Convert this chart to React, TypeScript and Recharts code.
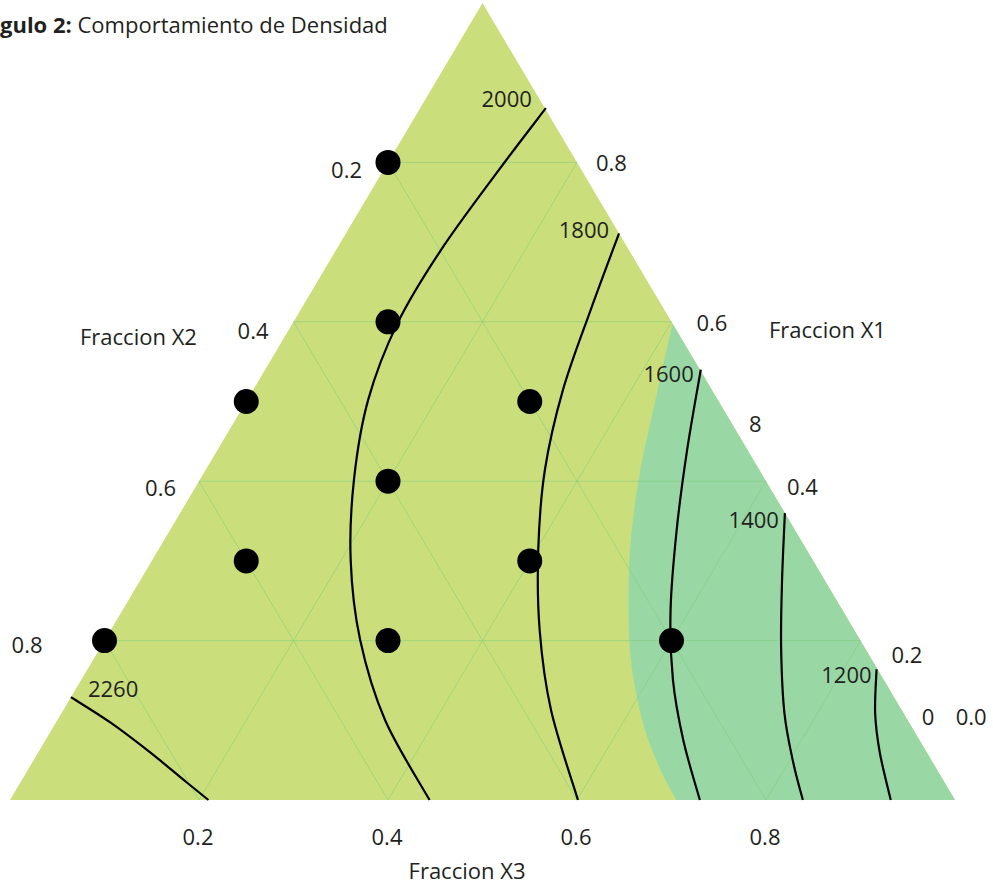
import React from "react";
import { ComposedChart, XAxis, YAxis, Scatter } from "recharts";

// ---- data (ternary fractions) ----
// mixture design points: X1 (apex), X3 (bottom right); X2 = 1 - X1 - X3
const DESIGN_X1 = [0.8, 0.6, 0.4, 0.2, 0.5, 0.3, 0.2, 0.5, 0.3, 0.2];
const DESIGN_X3 = [0.0, 0.1, 0.2, 0.3, 0.0, 0.1, 0.0, 0.3, 0.4, 0.6];

const GRID_VALUES = [0.2, 0.4, 0.6, 0.8];

const X2_TICKS = [0.2, 0.4, 0.6, 0.8];
const X2_TICK_LABELS = ["0.2", "0.4", "0.6", "0.8"];
const X1_TICKS = [0.8, 0.6, 0.47, 0.4, 0.2, 0.1, 0.1];
const X1_TICK_LABELS = ["0.8", "0.6", "8", "0.4", "0.2", "0", "0.0"];
const X3_TICKS = [0.2, 0.4, 0.6, 0.8];
const X3_TICK_LABELS = ["0.2", "0.4", "0.6", "0.8"];

const CONTOUR_LEVELS = ["2000", "1800", "1600", "1400", "1200", "2260"];

// contour lines as [X1, X3] pairs
const CONTOUR_2000 = [
  [0.868, 0.133], [0.79, 0.122], [0.69, 0.111], [0.598, 0.111], [0.502, 0.128],
  [0.402, 0.163], [0.301, 0.21], [0.201, 0.27], [0.1, 0.347], [0, 0.444],
];
const CONTOUR_1800 = [
  [0.711, 0.289], [0.615, 0.307], [0.514, 0.328], [0.414, 0.359], [0.314, 0.402],
  [0.213, 0.454], [0.113, 0.516], [0, 0.601],
];
const CONTOUR_1600 = [
  [0.54, 0.461], [0.439, 0.497], [0.339, 0.536], [0.238, 0.58], [0.151, 0.626],
  [0.075, 0.675], [0, 0.73],
];
const CONTOUR_1400 = [
  [0.36, 0.64], [0.276, 0.679], [0.192, 0.72], [0.109, 0.765], [0.046, 0.806], [0, 0.839],
];
const CONTOUR_1200 = [
  [0.164, 0.835], [0.109, 0.861], [0.059, 0.891], [0, 0.932],
];
const CONTOUR_2260 = [
  [0.129, 0.0], [0.097, 0.058], [0.06, 0.118], [0.024, 0.173], [0, 0.21],
];
const CONTOURS = [CONTOUR_2000, CONTOUR_1800, CONTOUR_1600, CONTOUR_1400, CONTOUR_1200, CONTOUR_2260];

// left border of the low-density (green) zone
const ZONE_BOUNDARY = [
  [0.598, 0.402], [0.502, 0.432], [0.414, 0.46], [0.326, 0.494], [0.251, 0.529],
  [0.176, 0.569], [0.1, 0.619], [0.044, 0.664], [0, 0.705],
];

// ---- layout ----
const CHART_W = 993;
const CHART_H = 886;
const BASE_LEFT = 10;
const BASE_RIGHT = 955;
const BASE_Y = 800;
const APEX_Y = 3;
const SX = BASE_RIGHT - BASE_LEFT;
const SY = BASE_Y - APEX_Y;
const X_DOMAIN = [-BASE_LEFT / SX, (CHART_W - BASE_LEFT) / SX];
const Y_DOMAIN = [(BASE_Y - CHART_H) / SY, BASE_Y / SY];

const FONT = "'Open Sans', 'Noto Sans', sans-serif";
const TEXT_COLOR = "#231f20";
const YELLOW = "#cadf7c";
const GREEN = "#99d8a5";

const X2_OFFSETS = [[-26, 16], [-25, 17], [-23, 15], [-62, 12]];
const X1_OFFSETS = [[19, 9], [25, 9], [16, 7], [21, 14], [31, 22], [14, 5], [48, 5]];
const LEVEL_OFFSETS = [[-14, -1], [-10, 5], [-7, 12], [-6, 15], [-5, 14], [17, 0]];
const LEVEL_ANCHORS = ["end", "end", "end", "end", "end", "start"];

// ternary -> plane (x along the base, y = height)
const toXY = (x1: number, x3: number) => ({ x: x3 + x1 / 2, y: x1 });

type Pt = { x: number; y: number };

const smoothPath = (pts: Pt[]) => {
  let d = `M${pts[0].x},${pts[0].y}`;
  for (let i = 0; i < pts.length - 1; i++) {
    const p0 = pts[i - 1] || pts[i];
    const p1 = pts[i];
    const p2 = pts[i + 1];
    const p3 = pts[i + 2] || p2;
    const c1x = p1.x + (p2.x - p0.x) / 6;
    const c1y = p1.y + (p2.y - p0.y) / 6;
    const c2x = p2.x - (p3.x - p1.x) / 6;
    const c2y = p2.y - (p3.y - p1.y) / 6;
    d += ` C${c1x},${c1y} ${c2x},${c2y} ${p2.x},${p2.y}`;
  }
  return d;
};

const NoShape = () => <g />;

// build series tables
const triangleData = [toXY(0, 0), toXY(1, 0), toXY(0, 1)];
const zoneData = [...ZONE_BOUNDARY.map(([a, b]) => toXY(a, b)), toXY(0, 1)];

const gridData: Pt[] = [];
GRID_VALUES.forEach((v) => {
  // constant X1
  gridData.push(toXY(v, 0), toXY(v, 1 - v));
  // constant X3
  gridData.push(toXY(0, v), toXY(1 - v, v));
  // constant X2
  gridData.push(toXY(0, 1 - v), toXY(1 - v, 0));
});

const designData = DESIGN_X1.map((x1, i) => toXY(x1, DESIGN_X3[i]));

const x2LabelData = X2_TICKS.map((v, i) => ({
  ...toXY(1 - v, 0), label: X2_TICK_LABELS[i], dx: X2_OFFSETS[i][0], dy: X2_OFFSETS[i][1], anchor: "end",
}));
const x1LabelData = X1_TICKS.map((v, i) => ({
  ...toXY(v, 1 - v), label: X1_TICK_LABELS[i], dx: X1_OFFSETS[i][0], dy: X1_OFFSETS[i][1], anchor: "start",
}));
const x3LabelData = X3_TICKS.map((v, i) => ({
  ...toXY(0, v), label: X3_TICK_LABELS[i], dx: -1, dy: 45, anchor: "middle",
}));
const levelLabelData = CONTOURS.map((c, i) => ({
  ...toXY(c[0][0], c[0][1]), label: CONTOUR_LEVELS[i],
  dx: LEVEL_OFFSETS[i][0], dy: LEVEL_OFFSETS[i][1], anchor: LEVEL_ANCHORS[i],
}));
const labelData = [...x2LabelData, ...x1LabelData, ...x3LabelData, ...levelLabelData];

const LabelShape = (props: any) => {
  const p = props.payload || props;
  return (
    <text
      x={props.cx + p.dx}
      y={props.cy + p.dy}
      textAnchor={p.anchor}
      fontFamily={FONT}
      fontSize={22}
      fill={TEXT_COLOR}
    >
      {p.label}
    </text>
  );
};

export default function App() {
  return (
    <div style={{ position: "absolute", left: 0, top: 0, width: CHART_W, height: CHART_H, background: "#fff" }}>
      <ComposedChart width={CHART_W} height={CHART_H} margin={{ top: 0, right: 0, bottom: 0, left: 0 }}>
        <XAxis type="number" dataKey="x" domain={X_DOMAIN} allowDataOverflow hide />
        <YAxis type="number" dataKey="y" domain={Y_DOMAIN} allowDataOverflow hide />

        <Scatter
          data={triangleData}
          isAnimationActive={false}
          shape={NoShape}
          line={(p: any) => (
            <path d={`M${p.points.map((q: Pt) => `${q.x},${q.y}`).join("L")}Z`} fill={YELLOW} stroke="none" />
          )}
        />
        <Scatter
          data={zoneData}
          isAnimationActive={false}
          shape={NoShape}
          line={(p: any) => {
            const pts: Pt[] = p.points;
            const curve = pts.slice(0, pts.length - 1);
            const v = pts[pts.length - 1];
            return <path d={`${smoothPath(curve)} L${v.x},${v.y} Z`} fill={GREEN} stroke="none" />;
          }}
        />
        <Scatter
          data={gridData}
          isAnimationActive={false}
          shape={NoShape}
          line={(p: any) => {
            const pts: Pt[] = p.points;
            let d = "";
            for (let i = 0; i + 1 < pts.length; i += 2) {
              d += `M${pts[i].x},${pts[i].y}L${pts[i + 1].x},${pts[i + 1].y}`;
            }
            return <path d={d} fill="none" stroke="#7fcc7a" strokeOpacity={0.55} strokeWidth={1} />;
          }}
        />
        {CONTOURS.map((c, i) => (
          <Scatter
            key={CONTOUR_LEVELS[i]}
            data={c.map(([a, b]) => toXY(a, b))}
            isAnimationActive={false}
            shape={NoShape}
            line={(p: any) => (
              <path d={smoothPath(p.points)} fill="none" stroke="#000" strokeWidth={2.2} />
            )}
          />
        ))}
        <Scatter
          data={designData}
          isAnimationActive={false}
          shape={(p: any) => <circle cx={p.cx} cy={p.cy} r={12.5} fill="#000" />}
        />
        <Scatter data={labelData} isAnimationActive={false} shape={LabelShape} />
      </ComposedChart>

      <svg
        width={CHART_W}
        height={CHART_H}
        style={{ position: "absolute", left: 0, top: 0, pointerEvents: "none" }}
      >
        <text x={0} y={33} fontFamily={FONT} fontSize={22} fill={TEXT_COLOR}>
          <tspan fontWeight="bold">gulo 2:</tspan>
          <tspan> Comportamiento de Densidad</tspan>
        </text>
        <text x={80} y={345} fontFamily={FONT} fontSize={22} fill={TEXT_COLOR}>Fraccion X2</text>
        <text x={769} y={338} fontFamily={FONT} fontSize={22} fill={TEXT_COLOR}>Fraccion X1</text>
        <text x={467} y={879} textAnchor="middle" fontFamily={FONT} fontSize={22} fill={TEXT_COLOR}>Fraccion X3</text>
      </svg>
    </div>
  );
}
